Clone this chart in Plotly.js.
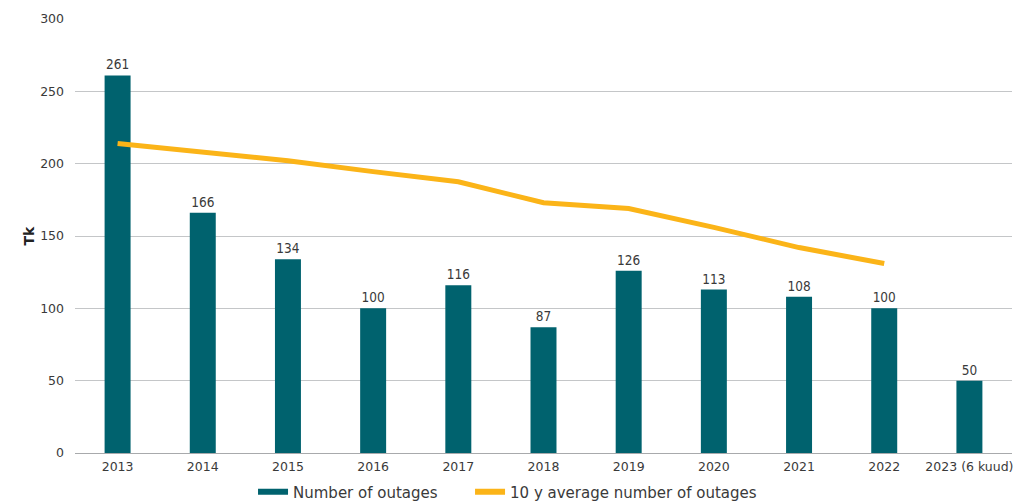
<!DOCTYPE html>
<html>
<head>
<meta charset="utf-8">
<script src="https://cdn.plot.ly/plotly-3.0.1.min.js"></script>
<style>
  html, body { margin: 0; padding: 0; background: #ffffff; }
  #chart { width: 1019px; height: 504px; }
</style>
</head>
<body>
<div id="chart"></div>
<script>
// Yearly outage counts and the rolling 10-year average
const years = ['2013', '2014', '2015', '2016', '2017', '2018', '2019', '2020', '2021', '2022', '2023 (6 kuud)'];
const outages = [261, 166, 134, 100, 116, 87, 126, 113, 108, 100, 50];
const avgOutages = [214, 208, 202, 194.5, 187.5, 173, 169, 156, 142, 131, null];

const seriesNames = ['Number of outages', '10 y average number of outages'];
const axisTitle = 'Tk';

const barColor = '#00626e';
const lineColor = '#fbb418';
const textColor = '#3a3a3a';
const fontFamily = '"DejaVu Sans", "Noto Sans", sans-serif';
const condFamily = '"DejaVu Sans Condensed", "DejaVu Sans", sans-serif';

const traces = [
  {
    type: 'bar',
    x: years,
    y: outages,
    marker: { color: barColor },
    text: outages.map(String),
    textposition: 'outside',
    cliponaxis: false,
    textfont: { family: condFamily, size: 13.5, color: textColor },
    showlegend: false,
    hoverinfo: 'x+y'
  },
  {
    type: 'scatter',
    mode: 'lines',
    x: years,
    y: avgOutages,
    line: { color: lineColor, width: 5 },
    name: seriesNames[1],
    showlegend: false,
    connectgaps: false
  },
  // legend entries drawn as line swatches, one legend box each
  {
    type: 'scatter', mode: 'lines', x: [years[0]], y: [null],
    line: { color: barColor, width: 6 }, name: seriesNames[0],
    legend: 'legend', hoverinfo: 'skip'
  },
  {
    type: 'scatter', mode: 'lines', x: [years[0]], y: [null],
    line: { color: lineColor, width: 6 }, name: seriesNames[1],
    legend: 'legend2', hoverinfo: 'skip'
  }
];

const legendBase = {
  orientation: 'h',
  xanchor: 'left',
  yref: 'container',
  y: 0.024,
  yanchor: 'middle',
  font: { family: fontFamily, size: 15, color: textColor },
  itemwidth: 30,
  bgcolor: 'rgba(0,0,0,0)'
};

const layout = {
  width: 1019,
  height: 504,
  margin: { l: 75, r: 7, t: 19, b: 51, autoexpand: false },
  paper_bgcolor: '#ffffff',
  plot_bgcolor: '#ffffff',
  font: { family: fontFamily, size: 13, color: textColor },
  bargap: 0.695,
  xaxis: {
    type: 'category',
    showgrid: false,
    showline: false,
    zeroline: false,
    ticks: '',
    ticklabelstandoff: 4,
    tickfont: { family: fontFamily, size: 12.5, color: textColor },
    fixedrange: true
  },
  yaxis: {
    range: [0, 300],
    dtick: 50,
    showgrid: true,
    gridcolor: '#c4c6c8',
    gridwidth: 1,
    zeroline: true,
    zerolinecolor: '#a8aaac',
    zerolinewidth: 1,
    showline: false,
    ticks: '',
    ticklabelstandoff: 10,
    tickfont: { family: fontFamily, size: 12.5, color: textColor },
    title: {
      text: '<b>' + axisTitle + '</b>',
      font: { family: fontFamily, size: 14, color: '#222222' },
      standoff: 2
    },
    fixedrange: true
  },
  legend: Object.assign({}, legendBase, { x: 0.19 }),
  legend2: Object.assign({}, legendBase, { x: 0.4216 }),
  showlegend: true
};

Plotly.newPlot('chart', traces, layout, { displayModeBar: false, staticPlot: true });
</script>
</body>
</html>
